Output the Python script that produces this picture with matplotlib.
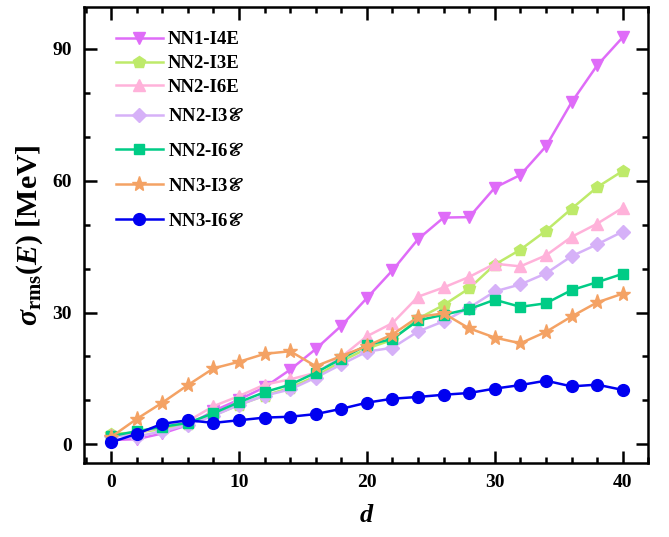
import matplotlib
matplotlib.use('Agg')
import matplotlib.pyplot as plt
from matplotlib.font_manager import FontProperties
from matplotlib.ticker import MultipleLocator


# ========================== DATA ==========================
d = [0, 2, 4, 6, 8, 10, 12, 14, 16, 18, 20,
     22, 24, 26, 28, 30, 32, 34, 36, 38, 40]

nn1_i4e = [1.0, 1.2, 2.5, 4.4, 7.6, 10.2, 13.0, 17.0, 21.7, 27.0, 33.3,
           39.6, 46.7, 51.6, 51.7, 58.4, 61.3, 67.8, 77.8, 86.2, 92.6]
nn2_i3e = [2.4, 2.7, 3.5, 4.6, 6.6, 9.0, 11.1, 12.9, 15.5, 18.9, 21.8,
           23.8, 28.6, 31.7, 35.5, 40.9, 44.3, 48.6, 53.6, 58.5, 62.2]
nn2_i6e = [1.6, 2.6, 4.0, 5.3, 8.7, 11.0, 13.6, 14.8, 16.3, 19.9, 24.6,
           27.6, 33.6, 35.7, 38.1, 41.1, 40.5, 43.0, 47.2, 50.2, 53.8]
nn2_i3cal = [2.0, 1.8, 3.0, 4.5, 6.5, 9.0, 11.1, 12.5, 15.2, 18.2, 21.1,
             22.0, 25.7, 28.0, 31.1, 34.8, 36.4, 38.9, 42.8, 45.5, 48.4]
nn2_i6cal = [1.9, 3.0, 4.0, 4.9, 7.1, 9.6, 11.9, 13.6, 16.3, 19.5, 22.6,
             24.0, 28.2, 29.5, 30.8, 32.9, 31.3, 32.1, 35.1, 36.9, 38.8]
nn3_i3cal = [1.7, 5.8, 9.5, 13.5, 17.3, 18.8, 20.6, 21.2, 17.8, 20.1, 22.4,
             25.0, 29.0, 29.8, 26.4, 24.3, 23.0, 25.6, 29.1, 32.3, 34.3]
nn3_i6cal = [0.5, 2.4, 4.7, 5.5, 4.9, 5.5, 6.1, 6.3, 6.9, 8.1, 9.5,
             10.4, 10.8, 11.3, 11.7, 12.7, 13.5, 14.5, 13.2, 13.6, 12.4]

labels = ['NN1-I4E', 'NN2-I3E', 'NN2-I6E', r'NN2-I3$\mathscr{E}$',
          r'NN2-I6$\mathscr{E}$', r'NN3-I3$\mathscr{E}$', r'NN3-I6$\mathscr{E}$']
# ===========================================================

STYLES = [
    {'color': '#DF6CF8', 'marker': 'v', 'ms': 9},
    {'color': '#BEEA6A', 'marker': 'p', 'ms': 9},
    {'color': '#FFB2DA', 'marker': '^', 'ms': 9},
    {'color': '#D6B1F8', 'marker': 'D', 'ms': 7},
    {'color': '#00CC86', 'marker': 's', 'ms': 7.5},
    {'color': '#F4A264', 'marker': '*', 'ms': 11},
    {'color': '#0000F0', 'marker': 'o', 'ms': 8.5},
]

plt.rcParams['font.family'] = ['Liberation Serif', 'DejaVu Serif']
plt.rcParams['font.weight'] = 'bold'
plt.rcParams['mathtext.fontset'] = 'custom'
plt.rcParams['mathtext.rm'] = 'Liberation Serif:bold'
plt.rcParams['mathtext.it'] = 'Liberation Serif:italic:bold'
plt.rcParams['mathtext.bf'] = 'Liberation Serif:bold'

fig = plt.figure(figsize=(6.69, 5.37), dpi=100)
ax = fig.add_axes([0.126, 0.138, 0.843, 0.849])

series = [nn1_i4e, nn2_i3e, nn2_i6e, nn2_i3cal, nn2_i6cal, nn3_i3cal, nn3_i6cal]
handles = []
for values, label, st in zip(series, labels, STYLES):
    line, = ax.plot(d, values, color=st['color'], marker=st['marker'],
                    markersize=st['ms'], linewidth=1.8, label=label)
    handles.append(line)

ax.set_xlim(-2.1, 42)
ax.set_ylim(-4.2, 99.5)
ax.xaxis.set_major_locator(MultipleLocator(10))
ax.xaxis.set_minor_locator(MultipleLocator(2))
ax.yaxis.set_major_locator(MultipleLocator(30))
ax.yaxis.set_minor_locator(MultipleLocator(10))

ax.tick_params(which='both', direction='in', top=True, right=True, width=1.8,
               labelsize=14)
ax.tick_params(axis='x', pad=8)
ax.tick_params(axis='y', pad=9)
ax.tick_params(which='major', length=9)
ax.tick_params(which='minor', length=4.5)
for lab in ax.get_xticklabels() + ax.get_yticklabels():
    lab.set_fontweight('bold')
for sp in ax.spines.values():
    sp.set_linewidth(1.8)

ax.set_xlabel('d', fontsize=19, fontstyle='italic', fontweight='bold', labelpad=9)
ax.set_ylabel(r'$\sigma_{\rm rms}(E)$ [MeV]', fontsize=21.5, fontweight='bold', labelpad=5)

# legend in two blocks: the script-E rows sit further apart
legend_font = FontProperties(family='Liberation Serif', weight='bold', size=13.5,
                             math_fontfamily='stix')
leg_opts = dict(loc='upper left', frameon=False, prop=legend_font, handlelength=2.5,
                handletextpad=0.25, borderaxespad=0)
leg1 = ax.legend(handles[:3], labels[:3], bbox_to_anchor=(0.043, 0.963),
                 labelspacing=0.35, **leg_opts)
ax.add_artist(leg1)
ax.legend(handles[3:], labels[3:], bbox_to_anchor=(0.043, 0.795),
          labelspacing=0.95, **leg_opts)

fig.savefig('out.png', dpi=100)
